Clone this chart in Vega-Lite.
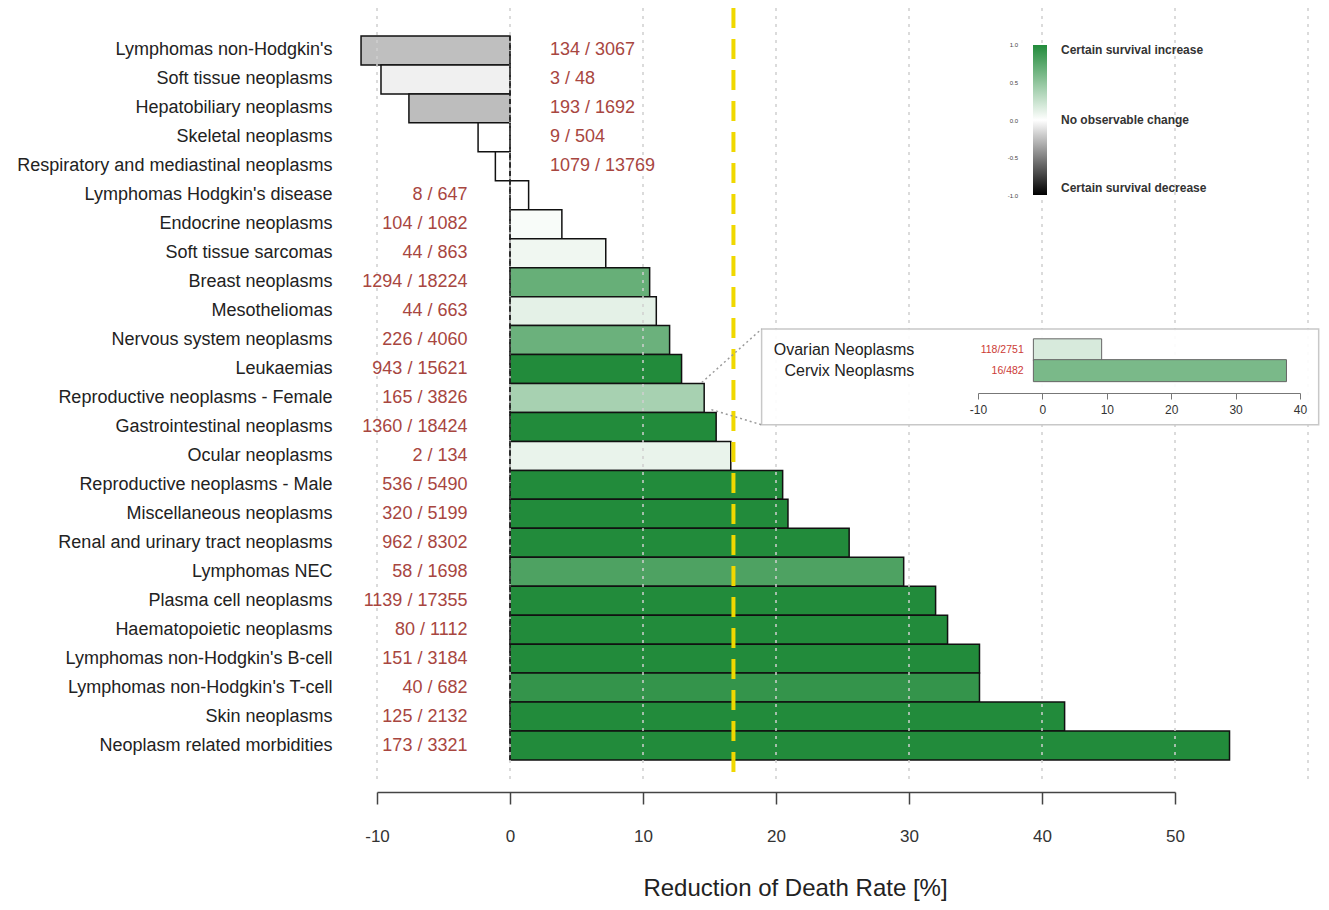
{
  "$schema": "https://vega.github.io/schema/vega-lite/v6.json",
  "width": 798,
  "height": 774,
  "autosize": {"type": "none"},
  "padding": {"left": 377, "top": 8, "right": 154, "bottom": 128},
  "background": "white",
  "config": {"view": {"stroke": null}, "font": "Liberation Sans"},
  "datasets": {
    "main": [
      {"name": "Lymphomas non-Hodgkin's", "value": -11.2, "certainty": -0.25, "label": "134 / 3067"},
      {"name": "Soft tissue neoplasms", "value": -9.7, "certainty": -0.06, "label": "3 / 48"},
      {"name": "Hepatobiliary neoplasms", "value": -7.6, "certainty": -0.26, "label": "193 / 1692"},
      {"name": "Skeletal neoplasms", "value": -2.4, "certainty": 0, "label": "9 / 504"},
      {"name": "Respiratory and mediastinal neoplasms", "value": -1.1, "certainty": 0, "label": "1079 / 13769"},
      {"name": "Lymphomas Hodgkin's disease", "value": 1.4, "certainty": 0, "label": "8 / 647"},
      {"name": "Endocrine neoplasms", "value": 3.9, "certainty": 0.03, "label": "104 / 1082"},
      {"name": "Soft tissue sarcomas", "value": 7.2, "certainty": 0.07, "label": "44 / 863"},
      {"name": "Breast neoplasms", "value": 10.5, "certainty": 0.69, "label": "1294 / 18224"},
      {"name": "Mesotheliomas", "value": 11.0, "certainty": 0.12, "label": "44 / 663"},
      {"name": "Nervous system neoplasms", "value": 12.0, "certainty": 0.67, "label": "226 / 4060"},
      {"name": "Leukaemias", "value": 12.9, "certainty": 1, "label": "943 / 15621"},
      {"name": "Reproductive neoplasms - Female", "value": 14.6, "certainty": 0.4, "label": "165 / 3826"},
      {"name": "Gastrointestinal neoplasms", "value": 15.5, "certainty": 1, "label": "1360 / 18424"},
      {"name": "Ocular neoplasms", "value": 16.6, "certainty": 0.1, "label": "2 / 134"},
      {"name": "Reproductive neoplasms - Male", "value": 20.5, "certainty": 1, "label": "536 / 5490"},
      {"name": "Miscellaneous neoplasms", "value": 20.9, "certainty": 1, "label": "320 / 5199"},
      {"name": "Renal and urinary tract neoplasms", "value": 25.5, "certainty": 1, "label": "962 / 8302"},
      {"name": "Lymphomas NEC", "value": 29.6, "certainty": 0.8, "label": "58 / 1698"},
      {"name": "Plasma cell neoplasms", "value": 32.0, "certainty": 1, "label": "1139 / 17355"},
      {"name": "Haematopoietic neoplasms", "value": 32.9, "certainty": 1, "label": "80 / 1112"},
      {"name": "Lymphomas non-Hodgkin's B-cell", "value": 35.3, "certainty": 1, "label": "151 / 3184"},
      {"name": "Lymphomas non-Hodgkin's T-cell", "value": 35.3, "certainty": 0.92, "label": "40 / 682"},
      {"name": "Skin neoplasms", "value": 41.7, "certainty": 1, "label": "125 / 2132"},
      {"name": "Neoplasm related morbidities", "value": 54.1, "certainty": 1, "label": "173 / 3321"}
    ],
    "inset": [
      {"name": "Ovarian Neoplasms", "order": 1, "value": 9.2, "certainty": 0.18, "label": "118/2751"},
      {"name": "Cervix Neoplasms", "order": 2, "value": 37.9, "certainty": 0.6, "label": "16/482"}
    ],
    "grid": [{"g": -10}, {"g": 0}, {"g": 10}, {"g": 20}, {"g": 30}, {"g": 40}, {"g": 50}, {"g": 60}],
    "legendTicks": [
      {"t": 1, "lab": "1.0"}, {"t": 0.5, "lab": "0.5"}, {"t": 0, "lab": "0.0"}, {"t": -0.5, "lab": "-0.5"}, {"t": -1, "lab": "-1.0"}
    ]
  },
  "layer": [
    {
      "layer": [
        {
          "data": {"name": "main"},
          "mark": {"type": "bar", "stroke": "#111111", "strokeWidth": 1.5},
          "encoding": {
            "y": {
              "field": "name", "type": "nominal", "sort": null,
              "scale": {"paddingInner": 0, "paddingOuter": 0.863, "align": 0.56},
              "axis": {"title": null, "domain": false, "ticks": false, "labelFontSize": 18, "labelColor": "#222222", "labelPadding": 45, "labelLimit": 500}
            },
            "x": {
              "field": "value", "type": "quantitative",
              "scale": {"domain": [-10, 50], "nice": false, "zero": false},
              "axis": {
                "orient": "bottom", "offset": 10, "values": [-10, 0, 10, 20, 30, 40, 50], "grid": false,
                "domainColor": "#444444", "domainWidth": 1.5, "tickColor": "#444444", "tickWidth": 1.5, "tickSize": 12,
                "labelFontSize": 17, "labelColor": "#333333", "labelPadding": 24, "labelFlush": false,
                "labelExpr": "replace(datum.label, '−', '-')",
                "title": "Reduction of Death Rate [%]", "titleFontSize": 24, "titleFontWeight": "normal",
                "titleColor": "#222222", "titlePadding": 32, "titleX": 418
              }
            },
            "x2": {"datum": 0},
            "color": {
              "field": "certainty", "type": "quantitative",
              "scale": {"domain": [-1, 0, 1], "range": ["#000000", "#ffffff", "#228b3b"], "interpolate": "rgb"},
              "legend": {
                "orient": "none", "legendX": 656, "legendY": 37, "direction": "vertical", "title": null,
                "gradientLength": 150, "gradientThickness": 14, "gradientStrokeWidth": 0,
                "values": [-1, 0, 1],
                "labelExpr": "datum.value == 1 ? 'Certain survival increase' : datum.value == 0 ? 'No observable change' : 'Certain survival decrease'",
                "labelFontSize": 12, "labelFontWeight": "bold", "labelColor": "#333333", "labelOffset": 14, "labelLimit": 300,
                "labelBaseline": "middle"
              }
            }
          }
        },
        {
          "data": {"name": "grid"},
          "mark": {"type": "rule", "color": "#cfcfcf", "strokeDash": [3, 5], "strokeWidth": 1.5},
          "encoding": {"x": {"field": "g", "type": "quantitative"}}
        },
        {
          "data": {"values": [{}]},
          "mark": {"type": "rule", "color": "#222222", "strokeDash": [5, 4], "strokeWidth": 1.5},
          "encoding": {
            "x": {"datum": 0},
            "y": {"datum": "Lymphomas non-Hodgkin's", "bandPosition": 0},
            "y2": {"datum": "Neoplasm related morbidities", "bandPosition": 1}
          }
        },
        {
          "data": {"values": [{}]},
          "mark": {"type": "rule", "color": "#f0d800", "strokeDash": [20, 11], "strokeWidth": 4},
          "encoding": {"x": {"datum": 16.8}}
        },
        {
          "data": {"name": "main"},
          "transform": [{"filter": "datum.value < 0"}],
          "mark": {"type": "text", "align": "left", "baseline": "middle", "fontSize": 18, "color": "#a8463f"},
          "encoding": {
            "x": {"datum": 3},
            "y": {"field": "name", "type": "nominal", "sort": null},
            "text": {"field": "label"}
          }
        },
        {
          "data": {"name": "main"},
          "transform": [{"filter": "datum.value >= 0"}],
          "mark": {"type": "text", "align": "right", "baseline": "middle", "fontSize": 18, "color": "#a8463f"},
          "encoding": {
            "x": {"datum": -3.2},
            "y": {"field": "name", "type": "nominal", "sort": null},
            "text": {"field": "label"}
          }
        }
      ]
    },
    {
      "layer": [
        {
          "data": {"values": [{}]},
          "mark": {"type": "rect", "fill": "#ffffff", "fillOpacity": 0.9, "stroke": "#c8c8c8", "strokeWidth": 1.5},
          "encoding": {
            "x": {
              "datum": -43.6, "type": "quantitative",
              "scale": {"domain": [-10, 40], "range": [601, 923], "nice": false, "zero": false},
              "axis": {
                "orient": "bottom", "offset": -389, "values": [-10, 0, 10, 20, 30, 40], "grid": false, "title": null,
                "domainColor": "#777777", "tickColor": "#777777", "tickSize": 6, "labelFontSize": 12,
                "labelColor": "#333333", "labelPadding": 5, "labelFlush": false, "zindex": 2,
                "labelExpr": "replace(datum.label, '−', '-')"
              }
            },
            "x2": {"datum": 42.9},
            "y": {"datum": 0, "type": "quantitative", "scale": {"domain": [0, 4.6], "range": [316, 421.8], "nice": false, "zero": false}, "axis": null},
            "y2": {"datum": 4.6}
          }
        },
        {
          "data": {"values": [{}]},
          "mark": {"type": "rule", "color": "#9a9a9a", "strokeDash": [2, 3], "strokeWidth": 1.5},
          "encoding": {
            "x": {"datum": -52.9}, "y": {"datum": 2.57, "axis": null},
            "x2": {"datum": -43.6}, "y2": {"datum": 0}
          }
        },
        {
          "data": {"values": [{}]},
          "mark": {"type": "rule", "color": "#9a9a9a", "strokeDash": [2, 3], "strokeWidth": 1.5},
          "encoding": {
            "x": {"datum": -51.4}, "y": {"datum": 3.87, "axis": null},
            "x2": {"datum": -43.6}, "y2": {"datum": 4.6}
          }
        },
        {
          "data": {"name": "inset"},
          "mark": {"type": "bar", "orient": "horizontal", "size": 22, "stroke": "#666666", "strokeWidth": 1},
          "encoding": {
            "x": {"field": "value", "type": "quantitative"},
            "x2": {"datum": -1.4},
            "y": {"field": "order", "type": "quantitative", "axis": null},
            "color": {"field": "certainty", "type": "quantitative"}
          }
        },
        {
          "data": {"name": "inset"},
          "mark": {"type": "text", "align": "right", "baseline": "middle", "fontSize": 10.5, "color": "#cc3b36"},
          "encoding": {
            "x": {"datum": -2.9},
            "y": {"field": "order", "type": "quantitative", "axis": null},
            "text": {"field": "label"}
          }
        },
        {
          "data": {"name": "inset"},
          "mark": {"type": "text", "align": "right", "baseline": "middle", "fontSize": 16, "color": "#222222"},
          "encoding": {
            "x": {"datum": -19.9},
            "y": {"field": "order", "type": "quantitative", "axis": null},
            "text": {"field": "name"}
          }
        }
      ]
    },
    {
      "data": {"name": "legendTicks"},
      "mark": {"type": "text", "align": "right", "baseline": "middle", "fontSize": 6, "color": "#444444"},
      "encoding": {
        "x": {"datum": 38.2, "type": "quantitative", "scale": {"domain": [-10, 50], "nice": false, "zero": false}, "axis": null},
        "y": {"field": "t", "type": "quantitative", "scale": {"domain": [-1, 1], "range": [188, 37], "nice": false, "zero": false}, "axis": null},
        "text": {"field": "lab"}
      }
    }
  ],
  "resolve": {
    "scale": {"x": "independent", "y": "independent"},
    "axis": {"x": "independent", "y": "independent"}
  }
}
